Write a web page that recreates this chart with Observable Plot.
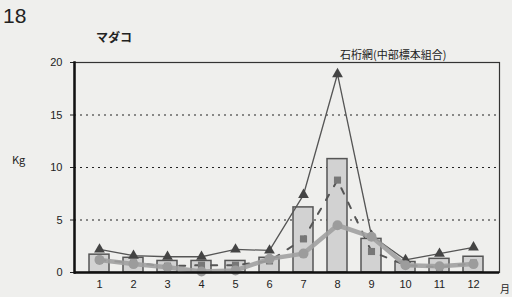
<!DOCTYPE html>
<html><head><meta charset="utf-8">
<script src="https://cdn.jsdelivr.net/npm/d3@7"></script>
<script src="https://cdn.jsdelivr.net/npm/@observablehq/plot@0.6"></script>
<style>
html,body{margin:0;padding:0;background:#efefed;}
#wrap{position:relative;width:512px;height:297px;overflow:hidden;font-family:"Noto Sans CJK JP","Noto Sans",sans-serif;color:#222;}
.t{position:absolute;white-space:nowrap;}
</style></head><body>
<div id="wrap">
<div class="t" style="left:3px;top:4px;font-size:21px;font-family:'Liberation Sans',sans-serif;">18</div>
<div class="t" style="left:96px;top:28px;font-size:12px;font-weight:bold;">マダコ</div>
<div class="t" style="left:340px;top:46px;font-size:11px;">石桁網(中部標本組合)</div>
<div class="t" style="left:12px;top:151px;font-size:11px;">Kg</div>
<div class="t" style="left:500px;top:281px;font-size:10px;">月</div>
</div>
<script>
const months = [1,2,3,4,5,6,7,8,9,10,11,12];
const barValues = [1.7,1.4,1.1,1.1,1.1,1.4,6.2,10.8,3.2,1.0,1.3,1.5];
const triangleValues = [2.2,1.6,1.5,1.5,2.2,2.1,7.4,18.9,3.5,1.2,1.8,2.4];
const squareValues = [1.2,0.9,0.6,0.7,0.7,1.1,3.2,8.8,2.0,0.7,0.5,0.9];
const circleValues = [1.2,0.8,0.5,0.1,0.2,1.3,1.8,4.5,3.4,0.7,0.6,0.8];
const yTicks = [0,5,10,15,20];
const gridTicks = [5,10,15];

const bars = months.map((m,i)=>({m, v:barValues[i]}));
const tri = months.map((m,i)=>({m, v:triangleValues[i]}));
const sq = months.map((m,i)=>({m, v:squareValues[i]}));
const ci = months.map((m,i)=>({m, v:circleValues[i]}));

const chart = Plot.plot({
  width: 512, height: 297,
  marginLeft: 74, marginRight: 13, marginTop: 62, marginBottom: 25,
  style: {background: "transparent", fontFamily: "'Liberation Sans', sans-serif", fontSize: "11px", color: "#222"},
  x: {type: "band", domain: months, padding: 0.4, label: null, tickSize: 0, tickPadding: 8},
  y: {domain: [0,20], ticks: yTicks, label: null, tickSize: 4, tickPadding: 8},
  marks: [
    Plot.ruleY(gridTicks, {stroke: "#222", strokeDasharray: "2,4", strokeWidth: 1.2}),
    Plot.barY(bars, {x: "m", y: "v", fill: "#d2d2d2", stroke: "#555", strokeWidth: 1.5}),
    Plot.line(tri, {x: "m", y: "v", stroke: "#555", strokeWidth: 1.3}),
    Plot.dot(tri, {x: "m", y: "v", symbol: "triangle", fill: "#444", r: 4}),
    Plot.line(sq, {x: "m", y: "v", stroke: "#555", strokeWidth: 2, strokeDasharray: "6,10"}),
    Plot.dot(sq, {x: "m", y: "v", symbol: "square", fill: "#777", r: 4}),
    Plot.line(ci, {x: "m", y: "v", stroke: "#a0a0a0", strokeWidth: 4.5, strokeOpacity: 0.9}),
    Plot.dot(ci, {x: "m", y: "v", symbol: "circle", fill: "#9c9c9c", r: 5}),
    Plot.frame({stroke: "#333", strokeWidth: 1.2}),
    Plot.frame({anchor: "left", stroke: "#111", strokeWidth: 2.5}),
    Plot.ruleY([0], {stroke: "#111", strokeWidth: 2.5})
  ]
});
chart.style.position = "absolute";
chart.style.left = "0"; chart.style.top = "0";
document.getElementById("wrap").prepend(chart);
</script>
</body></html>
